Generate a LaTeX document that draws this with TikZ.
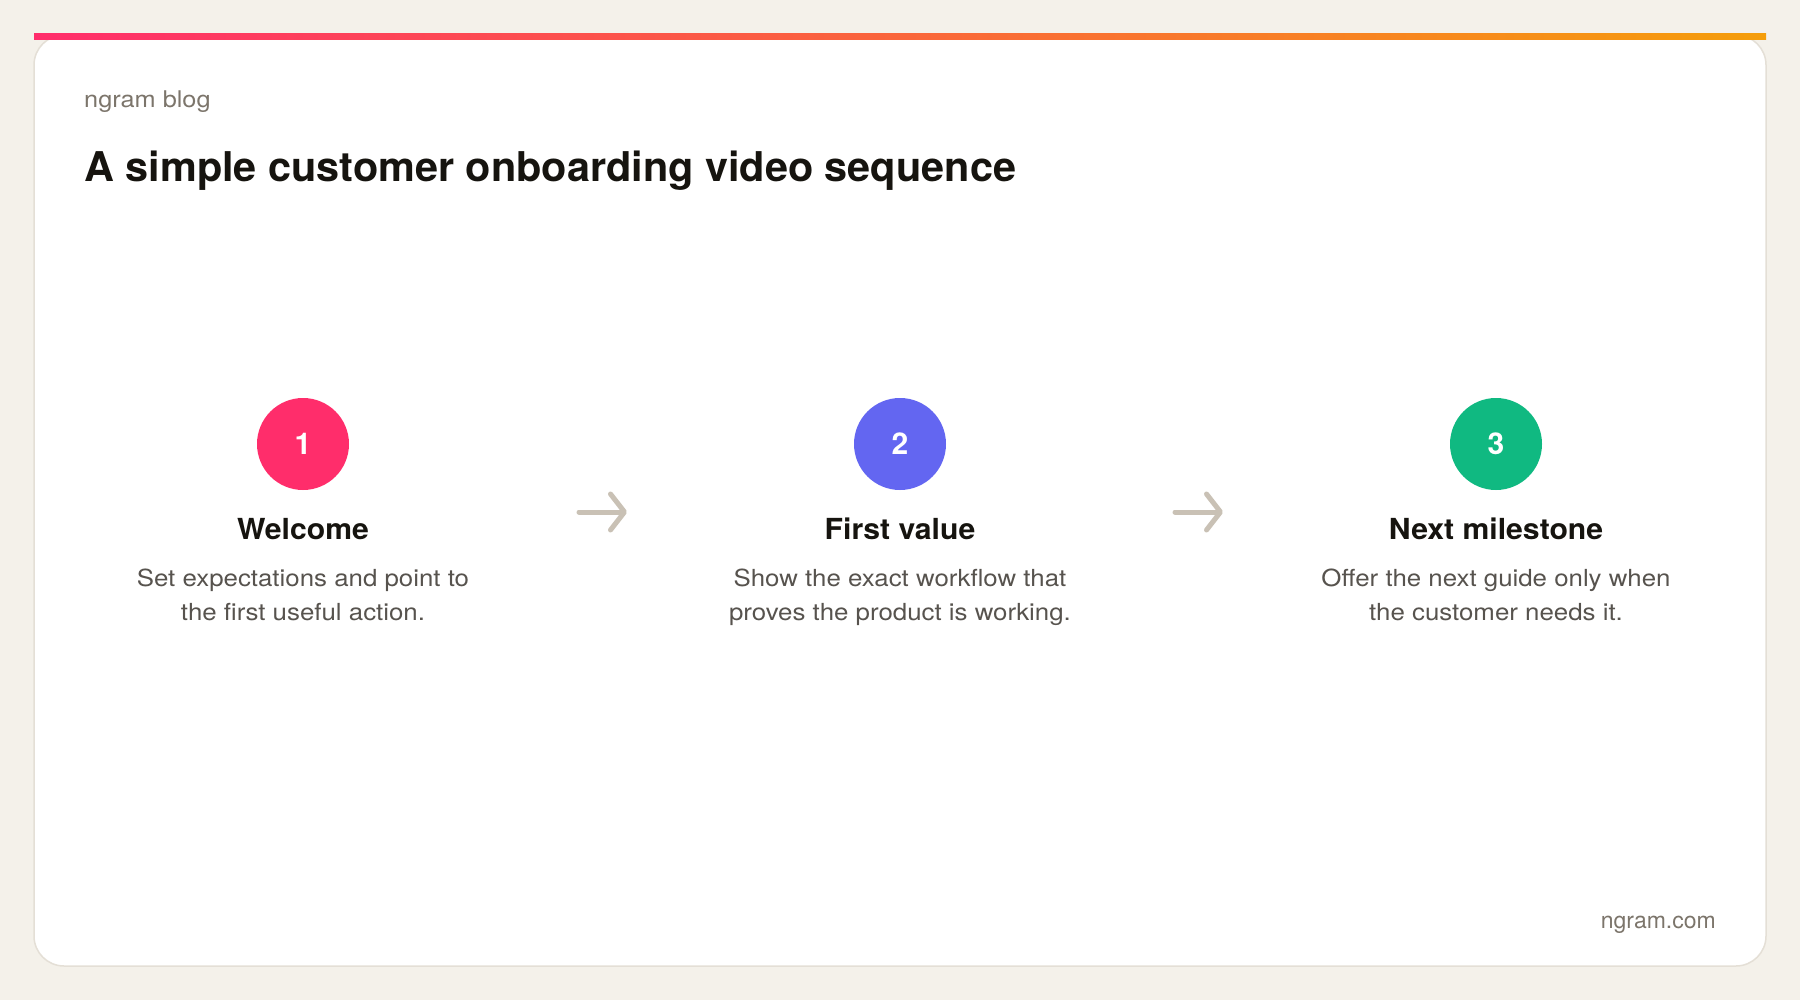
\documentclass[tikz,border=0pt]{standalone}
\usepackage{fontspec}
\setmainfont{TeX Gyre Heros}
\newfontfamily\widefont[FakeStretch=1.1]{TeX Gyre Heros}
\newfontfamily\boldwide[FakeStretch=1.04]{TeX Gyre Heros Bold}
\newfontfamily\boldtitle[FakeStretch=1.01]{TeX Gyre Heros Bold}
\usetikzlibrary{arrows.meta}
\definecolor{bgc}{HTML}{F4F1EA}
\definecolor{cardline}{HTML}{E4DFD6}
\definecolor{barl}{HTML}{FF2D6B}
\definecolor{barr}{HTML}{F59E0B}
\definecolor{ink}{HTML}{16140F}
\definecolor{muted}{HTML}{7C756B}
\definecolor{desc}{HTML}{57534E}
\definecolor{arrowc}{HTML}{C9C1B5}
\definecolor{c1}{HTML}{FF2D6B}
\definecolor{c2}{HTML}{6366F1}
\definecolor{c3}{HTML}{10B981}
\begin{document}
\begin{tikzpicture}[x=1pt,y=-1pt,
  numcircle/.style={circle, minimum size=92pt, inner sep=0pt, text=white, font=\fontsize{30}{30}\selectfont\bfseries},
  steptitle/.style={text=ink, font=\fontsize{29}{34}\selectfont\boldwide, inner sep=0pt},
  stepdesc/.style={text=desc, font=\fontsize{23.5}{33.5}\selectfont\widefont, align=center, inner sep=0pt},
  flowarrow/.style={draw=arrowc, line width=5pt, line cap=round, -{Straight Barb[round, length=14pt, width=36pt]}},
  smalltext/.style={text=muted, font=\fontsize{23}{28}\selectfont, inner sep=0pt}
]
\fill[bgc] (0,0) rectangle (1800,1000);
\useasboundingbox (0,0) rectangle (1800,1000);
\draw[fill=white, draw=cardline, line width=1.5pt, rounded corners=30pt] (34,35) rectangle (1766,966);
\shade[left color=barl, right color=barr] (34,34) rectangle (1766,40);

\node[smalltext, font=\fontsize{23}{28}\selectfont\widefont, anchor=base west] (blog) at (84,108) {ngram blog};
\node[text=ink, font=\fontsize{41}{48}\selectfont\boldtitle, inner sep=0pt, anchor=base west] (title) at (84,182) {A simple customer onboarding video sequence};

\node[numcircle, fill=c1] (n1) at (303,444) {1};
\node[numcircle, fill=c2] (n2) at (900,444) {2};
\node[numcircle, fill=c3] (n3) at (1496,444) {3};

\node[steptitle, anchor=base] (t1) at (303,539) {Welcome};
\node[steptitle, anchor=base] (t2) at (900,539) {First value};
\node[steptitle, anchor=base] (t3) at (1496,539) {Next milestone};

\node[stepdesc, anchor=north] (d1) at (303,569) {Set expectations and point to\\the first useful action.};
\node[stepdesc, anchor=north] (d2) at (900,569) {Show the exact workflow that\\proves the product is working.};
\node[stepdesc, anchor=north] (d3) at (1496,569) {Offer the next guide only when\\the customer needs it.};

\coordinate (a1s) at (579,512);
\coordinate (a1e) at (627,512);
\coordinate (a2s) at (1175,512);
\coordinate (a2e) at (1223,512);
\draw[flowarrow] (a1s) -- (a1e);
\draw[flowarrow] (a2s) -- (a2e);

\node[smalltext, anchor=base east] (site) at (1716,928) {ngram.com};
\end{tikzpicture}
\end{document}
